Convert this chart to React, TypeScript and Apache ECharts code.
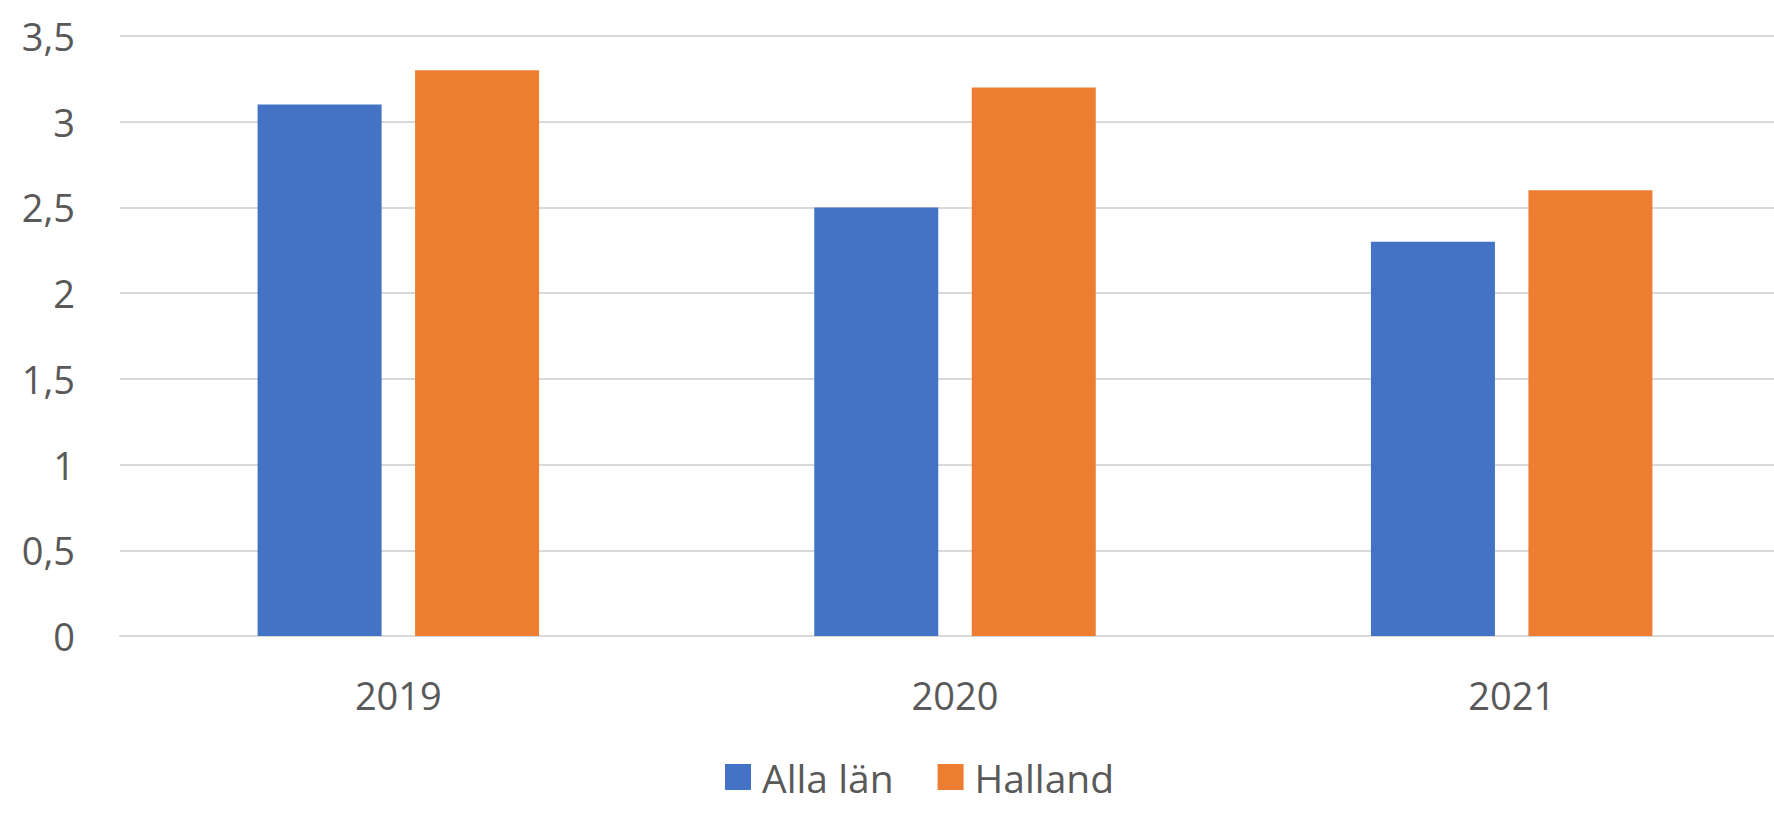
import React, { useEffect, useRef } from "react";
import * as echarts from "echarts";

const categories = ["2019", "2020", "2021"];
const allaLan = [3.1, 2.5, 2.3];
const halland = [3.3, 3.2, 2.6];
const seriesNames = ["Alla län", "Halland"];

export default function App() {
  const ref = useRef<HTMLDivElement>(null);
  useEffect(() => {
    document.body.style.margin = "0";
    document.body.style.overflow = "hidden";
    const chart = echarts.init(ref.current!, null, { renderer: "svg" });
    const font = "'Open Sans', 'Liberation Sans', sans-serif";
    chart.setOption({
      animation: false,
      grid: { left: 120, right: 10, top: 36, bottom: 178, containLabel: false },
      legend: {
        left: 720,
        top: 752,
        icon: "rect",
        itemWidth: 26,
        itemHeight: 26,
        itemGap: 44,
        textStyle: {
          fontFamily: font,
          fontSize: 39,
          lineHeight: 40,
          color: "#595959",
          padding: [0, 0, 0, 6],
        },
        data: seriesNames,
      },
      xAxis: {
        type: "category",
        data: categories,
        axisLine: { show: true, lineStyle: { color: "#d9d9d9", width: 2 } },
        axisTick: { show: false },
        axisLabel: { fontFamily: font, fontSize: 38, color: "#595959", margin: 40 },
      },
      yAxis: {
        type: "value",
        min: 0,
        max: 3.5,
        interval: 0.5,
        axisLine: { show: false },
        axisTick: { show: false },
        splitLine: { lineStyle: { color: "#d9d9d9", width: 2 } },
        axisLabel: {
          fontFamily: font,
          fontSize: 38,
          color: "#595959",
          margin: 45,
          formatter: (v: number) => String(v).replace(".", ","),
        },
      },
      series: [
        {
          name: seriesNames[0],
          type: "bar",
          data: allaLan,
          barWidth: 124,
          barGap: "27%",
          itemStyle: { color: "#4472C4" },
        },
        {
          name: seriesNames[1],
          type: "bar",
          data: halland,
          barWidth: 124,
          barGap: "27%",
          itemStyle: { color: "#ED7D31" },
        },
      ],
    });
    return () => chart.dispose();
  }, []);
  return <div ref={ref} style={{ width: 1800, height: 814 }} />;
}
